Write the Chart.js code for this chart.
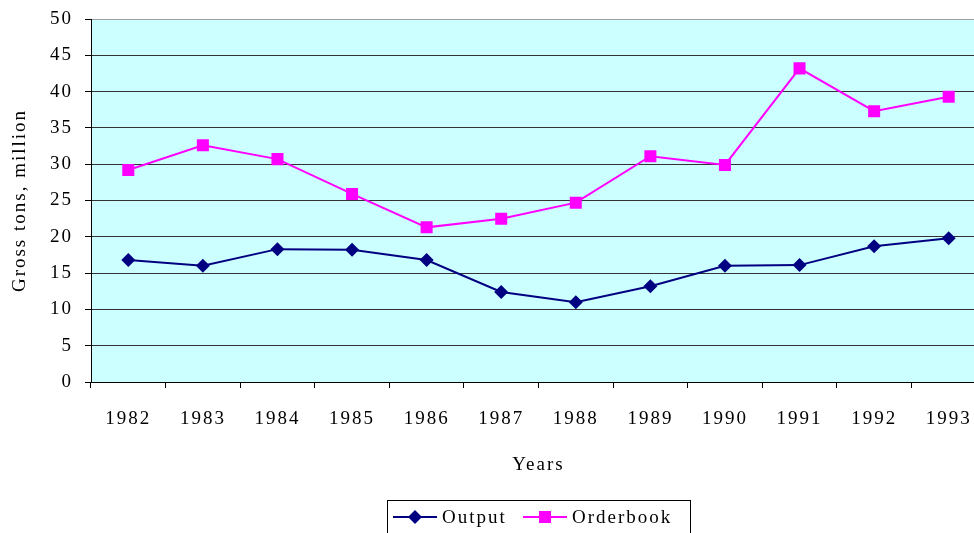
<!DOCTYPE html>
<html>
<head>
<meta charset="utf-8">
<script src="https://cdn.jsdelivr.net/npm/chart.js@4"></script>
<style>
  html, body { margin: 0; padding: 0; background: #fff; overflow: hidden; width: 974px; height: 533px; }
  canvas { display: block; }
</style>
</head>
<body>
<!-- canvas is wider than the window: the original plot area is cut off at the right -->
<canvas id="chart" width="986" height="533"></canvas>
<script>
// ===== DATA =====
const years = ['1982', '1983', '1984', '1985', '1986', '1987', '1988', '1989', '1990', '1991', '1992', '1993'];
const output = [16.8, 16.0, 18.3, 18.2, 16.8, 12.4, 11.0, 13.2, 16.0, 16.1, 18.7, 19.8];
const orderbook = [29.2, 32.6, 30.7, 25.9, 21.3, 22.5, 24.7, 31.1, 29.9, 43.2, 37.3, 39.3];
const seriesNames = ['Output', 'Orderbook'];
const yMin = 0, yMax = 50, yStep = 5;

const navy = '#000080', magenta = '#FF00FF', plotBg = '#CCFFFF';
const serif = '"Liberation Serif", "Times New Roman", serif';
const font = { family: serif, size: 19 };

// background + plot area fill, letter spacing for all text
const bgPlugin = {
  id: 'bg',
  beforeDraw(chart) {
    const { ctx, chartArea: a } = chart;
    ctx.save();
    ctx.fillStyle = '#fff';
    ctx.fillRect(0, 0, chart.width, chart.height);
    ctx.fillStyle = plotBg;
    ctx.fillRect(a.left, a.top, a.right - a.left, a.bottom - a.top);
    ctx.restore();
    ctx.letterSpacing = '2px';
  }
};

// boxed legend at the bottom, line + marker samples
const legendPlugin = {
  id: 'boxLegend',
  afterDraw(chart) {
    const ctx = chart.ctx;
    ctx.save();
    ctx.letterSpacing = '2px';
    ctx.fillStyle = '#fff';
    ctx.fillRect(387, 500, 303, 40);
    ctx.strokeStyle = '#000';
    ctx.lineWidth = 1;
    ctx.strokeRect(387.5, 500.5, 303, 40);
    const y = 517;
    const items = [
      { x: 393, color: navy, style: 'rectRot', r: 7, textX: 442 },
      { x: 523, color: magenta, style: 'rect', r: 8.5, textX: 572 }
    ];
    items.forEach((it, i) => {
      ctx.strokeStyle = it.color;
      ctx.lineWidth = 2;
      ctx.beginPath();
      ctx.moveTo(it.x, y);
      ctx.lineTo(it.x + 44, y);
      ctx.stroke();
      ctx.fillStyle = it.color;
      Chart.helpers.drawPoint(ctx, { pointStyle: it.style, radius: it.r, borderWidth: 0 }, it.x + 22, y);
      ctx.fillStyle = '#000';
      ctx.font = '19px ' + serif;
      ctx.textBaseline = 'middle';
      ctx.textAlign = 'left';
      ctx.fillText(seriesNames[i], it.textX, y + 1);
    });
    ctx.restore();
  }
};

new Chart(document.getElementById('chart').getContext('2d'), {
  type: 'line',
  data: {
    labels: years,
    datasets: [
      {
        label: seriesNames[0],
        data: output,
        borderColor: navy, backgroundColor: navy,
        borderWidth: 2, pointStyle: 'rectRot', pointRadius: 7,
        pointBorderWidth: 0, fill: false, tension: 0
      },
      {
        label: seriesNames[1],
        data: orderbook,
        borderColor: magenta, backgroundColor: magenta,
        borderWidth: 2, pointStyle: 'rect', pointRadius: 8.5,
        pointBorderWidth: 0, fill: false, tension: 0
      }
    ]
  },
  options: {
    responsive: false,
    animation: false,
    layout: { autoPadding: false, padding: { top: 19, left: 0, right: 0, bottom: 57 } },
    plugins: { legend: { display: false }, tooltip: { enabled: false } },
    scales: {
      x: {
        offset: true,
        grid: { offset: true, drawOnChartArea: false, tickLength: 6, color: '#000' },
        border: { color: '#000', width: 1 },
        ticks: { font, color: '#000', padding: 20, maxRotation: 0, autoSkip: false },
        title: { display: true, text: 'Years', font, color: '#000', padding: 0 },
        afterFit: s => { s.height = 94; s.paddingLeft = 0; s.paddingRight = 0; }
      },
      y: {
        min: yMin, max: yMax,
        grid: {
          color: c => (c.tick && c.tick.value === yMax ? '#a0a0a0' : '#333'),
          tickColor: '#000', tickLength: 6, lineWidth: 1
        },
        border: { color: '#000', width: 1 },
        ticks: { stepSize: yStep, font, color: '#000', padding: 12 },
        title: { display: true, text: 'Gross tons, million', font, color: '#000', padding: { top: 9, bottom: 0 } },
        afterFit: s => { s.width = 91; s.paddingTop = 0; s.paddingBottom = 0; }
      }
    }
  },
  plugins: [bgPlugin, legendPlugin]
});
</script>
</body>
</html>
